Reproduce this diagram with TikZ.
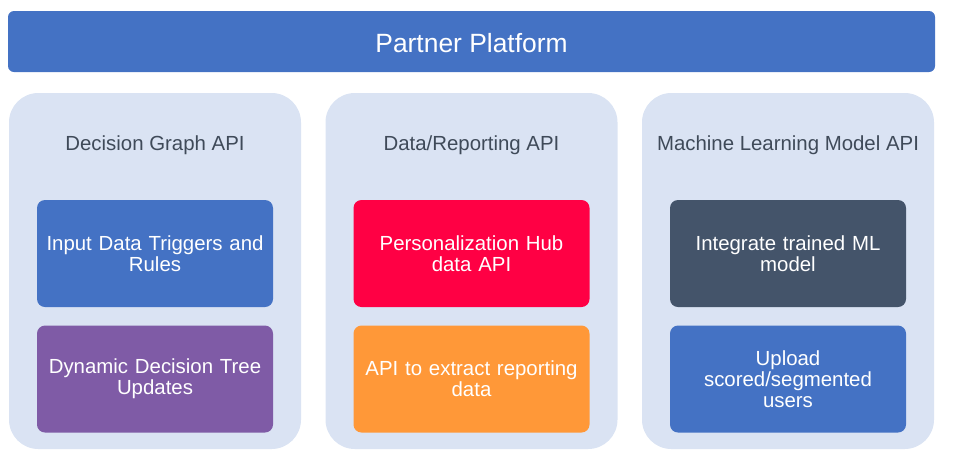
\documentclass[tikz,border=0pt]{standalone}
\usepackage{fontspec}
\setmainfont{Liberation Sans}
\usetikzlibrary{positioning}

\definecolor{platformblue}{HTML}{4472C4}
\definecolor{panelbg}{HTML}{DAE3F3}
\definecolor{titlegray}{HTML}{3F4A59}
\definecolor{hubred}{HTML}{FF0044}
\definecolor{reportorange}{HTML}{FF9838}
\definecolor{treepurple}{HTML}{7F5BA6}
\definecolor{modelslate}{HTML}{44546A}

\tikzset{
    platform/.style={fill=platformblue, rounded corners=4.5pt, minimum width=695.25pt,
        minimum height=45.75pt, text height=17pt, text=white, font=\fontsize{19.8}{22}\selectfont},
    panel/.style={fill=panelbg, rounded corners=22pt, minimum width=219pt, minimum height=267pt},
    apititle/.style={text=titlegray, font=\fontsize{15.3}{18}\selectfont},
    apibox/.style={rounded corners=6pt, minimum width=177pt, minimum height=80.25pt,
        text width=170pt, align=center, text=white, inner sep=0pt,
        font=\fontsize{15.3}{15.9}\selectfont},
}

\begin{document}
\begin{tikzpicture}[x=0.75pt, y=-0.75pt]
            \useasboundingbox (0,0) rectangle (953,472);

            \node[platform] (partner) at (471.5,41.5) {Partner Platform};

            % three API panels with their titles
            \foreach \x/\n/\t in {155/graph/{Decision Graph API}, 471.5/report/{Data/Reporting API}, 788/model/{Machine Learning Model API}}
            {
                \node[panel] (\n) at (\x,271) {};
                \node[apititle] (\n-title) at (\x,145) {\t};
            }

            \node[apibox, fill=platformblue] (triggers) at (155,253.5) {Input Data Triggers and\\Rules};
            \node[apibox, fill=treepurple, below=13.5pt of triggers] (tree) {Dynamic Decision Tree\\Updates};

            \node[apibox, fill=hubred] (hub) at (471.5,253.5) {Personalization Hub\\data API};
            \node[apibox, fill=reportorange, below=13.5pt of hub] (extract) {API to extract reporting\\data};

            \node[apibox, fill=modelslate] (trained) at (788,253.5) {Integrate trained ML\\model};
            \node[apibox, fill=platformblue, below=13.5pt of trained] (upload) {Upload\\scored/segmented\\users};
        \end{tikzpicture}
\end{document}
